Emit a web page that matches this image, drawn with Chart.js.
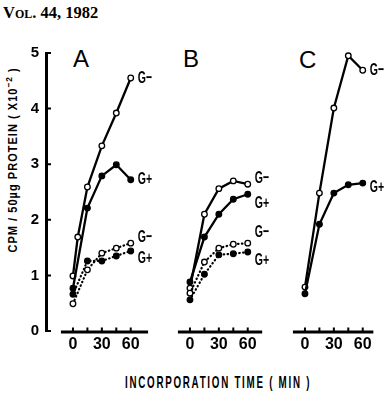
<!DOCTYPE html>
<html><head><meta charset="utf-8">
<script src="https://cdn.jsdelivr.net/npm/chart.js@4.4.0/dist/chart.umd.min.js"></script>
<style>
html,body{margin:0;padding:0;background:#fff;width:389px;height:393px;overflow:hidden;position:relative;}
canvas.cv{position:absolute;top:0;}
.txt{position:absolute;left:0;top:0;white-space:nowrap;line-height:1;color:#000;transform-origin:0 0;}
.narrow{font-family:'Liberation Sans Narrow','Liberation Sans',Arial,sans-serif;font-weight:bold;}
.panel{font-family:'Liberation Sans',Arial,sans-serif;font-size:24px;}
#hdr{font-family:'Liberation Serif','Times New Roman',serif;font-weight:bold;font-size:16.5px;font-variant:small-caps;left:3px;top:4.5px;}
#ytitle{font-size:12.5px;letter-spacing:1.2px;}
#xtitle{font-size:17px;letter-spacing:3px;}
.sup{font-size:0.75em;position:relative;top:-0.5em;}
</style></head><body>
<div id="hdr" class="txt">Vol. 44, 1982</div>
<div id="ytitle" class="txt narrow">CPM / 50µg PROTEIN ( X10<span class="sup">−2</span> )</div>
<div id="xtitle" class="txt narrow">INCORPORATION TIME ( MIN )</div>
<div id="pA" class="txt panel" style="left:73px;top:47px">A</div>
<div id="pB" class="txt panel" style="left:183px;top:47px">B</div>
<div id="pC" class="txt panel" style="left:299px;top:48px">C</div>
<canvas id="cA" class="cv" width="166" height="393" style="left:0px;width:166px;height:393px"></canvas>
<canvas id="cB" class="cv" width="166" height="393" style="left:117px;width:166px;height:393px"></canvas>
<canvas id="cC" class="cv" width="166" height="393" style="left:232px;width:166px;height:393px"></canvas>
<script>
// ---------- data ----------
const timesAGmSolid = [0, 5, 15, 30, 45, 60];
const times = [0, 15, 30, 45, 60];
const A_GmSolid  = [0.99, 1.69, 2.59, 3.33, 3.92, 4.55];
const A_GpSolid  = [0.77, 2.21, 2.79, 2.99, 2.72];
const A_GmDotted = [0.49, 1.10, 1.40, 1.49, 1.58];
const A_GpDotted = [0.66, 1.26, 1.26, 1.35, 1.44];
const B_GmSolid  = [0.77, 2.10, 2.56, 2.70, 2.64];
const B_GpSolid  = [0.88, 1.69, 2.10, 2.37, 2.46];
const B_GmDotted = [0.68, 1.24, 1.49, 1.56, 1.58];
const B_GpDotted = [0.56, 1.02, 1.37, 1.39, 1.42];
const C_Gm = [0.79, 2.48, 4.01, 4.95, 4.69];
const C_Gp = [0.67, 1.92, 2.48, 2.63, 2.66];
const xTicks = [0, 15, 30, 45, 60];
const xTickLabels = [0, 30, 60];
const yTicks = [0, 1, 2, 3, 4, 5];
const LBL_MINUS = 'G\u2212';
const LBL_PLUS = 'G+';

// ---------- helpers ----------
const FONT = "'Liberation Sans Narrow','Liberation Sans',Arial,sans-serif";
function pts(t, v) { return t.map((x, i) => ({ x: x, y: v[i] })); }
function ds(label, t, v, open, dotted, labelDy) {
  return {
    label: label, data: pts(t, v), labelDy: labelDy,
    borderColor: '#000', borderWidth: dotted ? 2.2 : 2.3,
    borderDash: dotted ? [0.5, 3.4] : [], borderCapStyle: dotted ? 'round' : 'butt',
    tension: 0, clip: false,
    pointRadius: 2.8, pointBorderWidth: 1.3, pointBorderColor: '#000',
    pointBackgroundColor: open ? '#fff' : '#000', fill: false
  };
}

const panelPlugin = {
  id: 'panelAxes',
  beforeDatasetsDraw(chart, args, o) {
    const ctx = chart.ctx, xs = chart.scales.x, ys = chart.scales.y;
    const y0 = ys.getPixelForValue(0) + 1;
    ctx.save();
    ctx.strokeStyle = '#000';
    ctx.lineWidth = 3;
    ctx.beginPath();
    ctx.moveTo(xs.getPixelForValue(o.seg[0]), y0);
    ctx.lineTo(xs.getPixelForValue(o.seg[1]), y0);
    ctx.stroke();
    ctx.lineWidth = 2;
    ctx.beginPath();
    xs.ticks.forEach(t => { const x = xs.getPixelForValue(t.value); ctx.moveTo(x, y0); ctx.lineTo(x, y0 - 4.5); });
    ctx.stroke();
    if (o.yAxis) {
      const left = chart.chartArea.left;
      ctx.beginPath();
      ys.ticks.forEach(t => { const y = ys.getPixelForValue(t.value); ctx.moveTo(left, y); ctx.lineTo(left + 5, y); });
      ctx.stroke();
    }
    ctx.restore();
  },
  afterDatasetsDraw(chart) {
    const ctx = chart.ctx;
    ctx.save();
    ctx.fillStyle = '#000';
    ctx.font = "bold 17px 'Liberation Sans',Arial,sans-serif";
    ctx.textBaseline = 'middle';
    ctx.textAlign = 'left';
    chart.data.datasets.forEach((d, i) => {
      const meta = chart.getDatasetMeta(i);
      const p = meta.data[meta.data.length - 1];
      ctx.save();
      ctx.translate(p.x + 7, p.y + (d.labelDy || 0));
      ctx.scale(0.62, 1);
      ctx.fillText(d.label, 0, 0);
      ctx.restore();
    });
    ctx.restore();
  }
};

function makeChart(id, datasets, showY, seg) {
  return new Chart(document.getElementById(id), {
    type: 'line',
    data: { datasets: datasets },
    options: {
      responsive: false, animation: false, events: [],
      layout: { padding: { top: 53, right: 16, bottom: 0, left: 0 } },
      plugins: { legend: { display: false }, tooltip: { enabled: false },
                 panelAxes: { seg: seg, yAxis: showY } },
      scales: {
        x: {
          type: 'linear', min: -28, max: 80,
          border: { display: false }, grid: { display: false, drawTicks: false },
          afterBuildTicks: s => { s.ticks = xTicks.map(v => ({ value: v })); },
          afterFit: s => { s.height = 62; },
          ticks: { autoSkip: false, maxRotation: 0, padding: 4, color: '#000',
                   font: { family: FONT, size: 16, weight: 'bold' },
                   callback: v => xTickLabels.includes(v) ? String(v) : '' }
        },
        y: {
          min: 0, max: 5,
          border: { display: showY, width: 3, color: '#000' },
          grid: { display: false, drawTicks: false },
          afterBuildTicks: s => { s.ticks = yTicks.map(v => ({ value: v })); },
          afterFit: s => { s.width = 46; },
          ticks: { display: showY, padding: 7, color: '#000',
                   font: { family: FONT, size: 15, weight: 'bold' } }
        }
      }
    },
    plugins: [panelPlugin]
  });
}

makeChart('cA', [
  ds(LBL_MINUS, times, A_GmDotted, true, true, -6),
  ds(LBL_PLUS, times, A_GpDotted, false, true, 7),
  ds(LBL_PLUS, times, A_GpSolid, false, false, 0),
  ds(LBL_MINUS, timesAGmSolid, A_GmSolid, true, false, 0)
], true, [-12.5, 78]);
makeChart('cB', [
  ds(LBL_MINUS, times, B_GmDotted, true, true, -11),
  ds(LBL_PLUS, times, B_GpDotted, false, true, 8),
  ds(LBL_MINUS, times, B_GmSolid, true, false, -6),
  ds(LBL_PLUS, times, B_GpSolid, false, false, 9)
], false, [-12.5, 75]);
makeChart('cC', [
  ds(LBL_PLUS, times, C_Gp, false, false, 4),
  ds(LBL_MINUS, times, C_Gm, true, false, 0)
], false, [-12.5, 71]);

// ---------- titles ----------
function place(id, cx, cy, targetW, rot) {
  const el = document.getElementById(id);
  const w = el.offsetWidth, h = el.offsetHeight;
  const sx = targetW / w;
  el.style.transform = 'translate(' + cx + 'px,' + cy + 'px) rotate(' + rot + 'deg) scaleX(' + sx + ') translate(' + (-w / 2) + 'px,' + (-h / 2) + 'px)';
}
place('ytitle', 13, 160, 185, -90);
place('xtitle', 218, 382, 186, 0);
</script>
</body></html>
